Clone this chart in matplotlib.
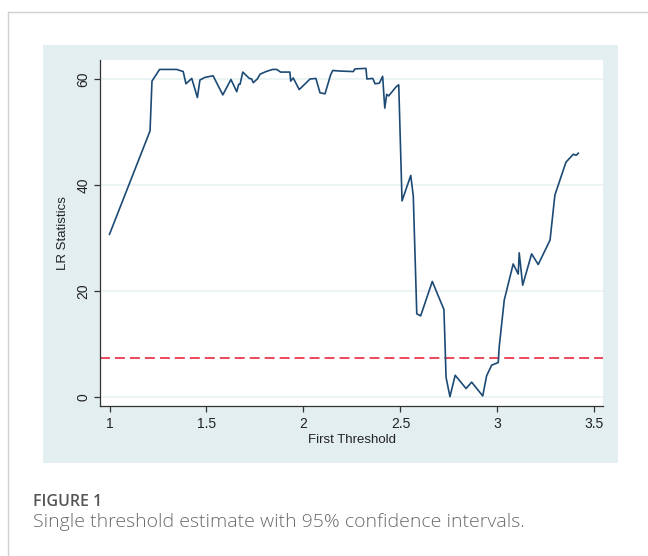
import matplotlib
matplotlib.use("Agg")
import matplotlib.pyplot as plt
from matplotlib.patches import Rectangle
from matplotlib.lines import Line2D

# threshold values and LR statistics
threshold = [1.0, 1.209, 1.219, 1.258, 1.346, 1.380, 1.394, 1.424, 1.453, 1.466,
             1.492, 1.534, 1.584, 1.626, 1.656, 1.666, 1.673, 1.687, 1.721, 1.733,
             1.741, 1.762, 1.776, 1.807, 1.841, 1.862, 1.882, 1.930, 1.934, 1.947,
             1.978, 2.034, 2.064, 2.085, 2.111, 2.140, 2.151, 2.185, 2.257, 2.265,
             2.322, 2.327, 2.357, 2.369, 2.391, 2.408, 2.419, 2.429, 2.439, 2.477,
             2.491, 2.508, 2.553, 2.566, 2.584, 2.604, 2.664, 2.724, 2.735, 2.755,
             2.782, 2.838, 2.867, 2.924, 2.944, 2.970, 3.004, 3.009, 3.035, 3.081,
             3.107, 3.112, 3.130, 3.176, 3.210, 3.271, 3.296, 3.353, 3.391, 3.405,
             3.417]
lr_stat = [30.7, 50.2, 59.6, 61.8, 61.8, 61.4, 59.1, 60.1, 56.5, 59.8,
           60.3, 60.6, 57.0, 59.9, 57.6, 59.0, 59.0, 61.3, 60.1, 60.0,
           59.3, 60.0, 60.9, 61.4, 61.8, 61.8, 61.3, 61.3, 59.6, 60.2,
           58.0, 60.0, 60.1, 57.4, 57.2, 60.8, 61.6, 61.5, 61.4, 61.9,
           62.0, 60.0, 60.1, 59.1, 59.2, 60.5, 54.5, 57.1, 56.8, 58.5,
           58.9, 37.0, 41.8, 37.9, 15.7, 15.3, 21.8, 16.5, 3.7, 0.06,
           4.1, 1.6, 2.8, 0.2, 4.0, 6.0, 6.5, 9.5, 18.3, 25.1,
           23.2, 27.2, 21.1, 27.0, 25.0, 29.6, 38.1, 44.3, 45.8, 45.6,
           46.0]
critical_value = 7.35
x_ticks = [1, 1.5, 2, 2.5, 3, 3.5]
x_tick_labels = ["1", "1.5", "2", "2.5", "3", "3.5"]
y_ticks = [0, 20, 40, 60]

W, H = 648, 556
plt.rcParams['font.family'] = ['Liberation Sans', 'DejaVu Sans']

fig = plt.figure(figsize=(W / 100, H / 100), dpi=100)
fig.patch.set_facecolor('white')

# card border (top and left) and light blue graph panel
fig.add_artist(Line2D([8 / W, 1], [1 - 12 / H, 1 - 12 / H], color='#cfcfcf', lw=1))
fig.add_artist(Line2D([8 / W, 8 / W], [0, 1 - 12 / H], color='#cfcfcf', lw=1))
fig.add_artist(Rectangle((43 / W, 1 - 463 / H), 575 / W, 418 / H,
                         facecolor='#e2eef0', edgecolor='none', zorder=0))

ax = fig.add_axes([100 / W, 1 - 406 / H, 503 / W, 346 / H])
ax.set_facecolor('white')
ax.plot(threshold, lr_stat, color='#1c4a75', lw=1.2, zorder=3)
ax.axhline(critical_value, color='#e8152e', lw=1.1, linestyle=(0, (6.5, 3.3)), zorder=2)

ax.set_xlim(0.951, 3.544)
ax.set_ylim(-1.7, 63.58)
ax.set_xticks(x_ticks)
ax.set_xticklabels(x_tick_labels)
ax.set_yticks(y_ticks)
ax.set_yticklabels([str(v) for v in y_ticks], rotation=90, va='center')
ax.grid(axis='y', color='#eaf2f4', lw=1.3)
ax.set_axisbelow(True)

for s in ['top', 'right']:
    ax.spines[s].set_visible(False)
for s in ['left', 'bottom']:
    ax.spines[s].set_color('#333333')
    ax.spines[s].set_linewidth(0.9)
ax.tick_params(direction='out', length=4, width=0.9, color='#333333',
               labelsize=10, labelcolor='#222222')
ax.tick_params(axis='x', pad=4)
ax.tick_params(axis='y', pad=3)

ax.set_xlabel('First Threshold', fontsize=9.5, labelpad=2, color='#222222')
ax.set_ylabel('LR Statistics', fontsize=9.5, labelpad=5, color='#222222')

fig.text(33 / W, 1 - 502 / H, 'FIGURE 1', fontsize=11.5, fontweight='semibold',
         color='#555555', family=['Open Sans', 'DejaVu Sans'], va='center')
fig.text(33 / W, 1 - 522 / H, 'Single threshold estimate with 95% confidence intervals.',
         fontsize=14, fontweight='light', color='#6a6a6a',
         family=['Open Sans', 'DejaVu Sans'], va='center')

fig.savefig('out.png', dpi=100)
